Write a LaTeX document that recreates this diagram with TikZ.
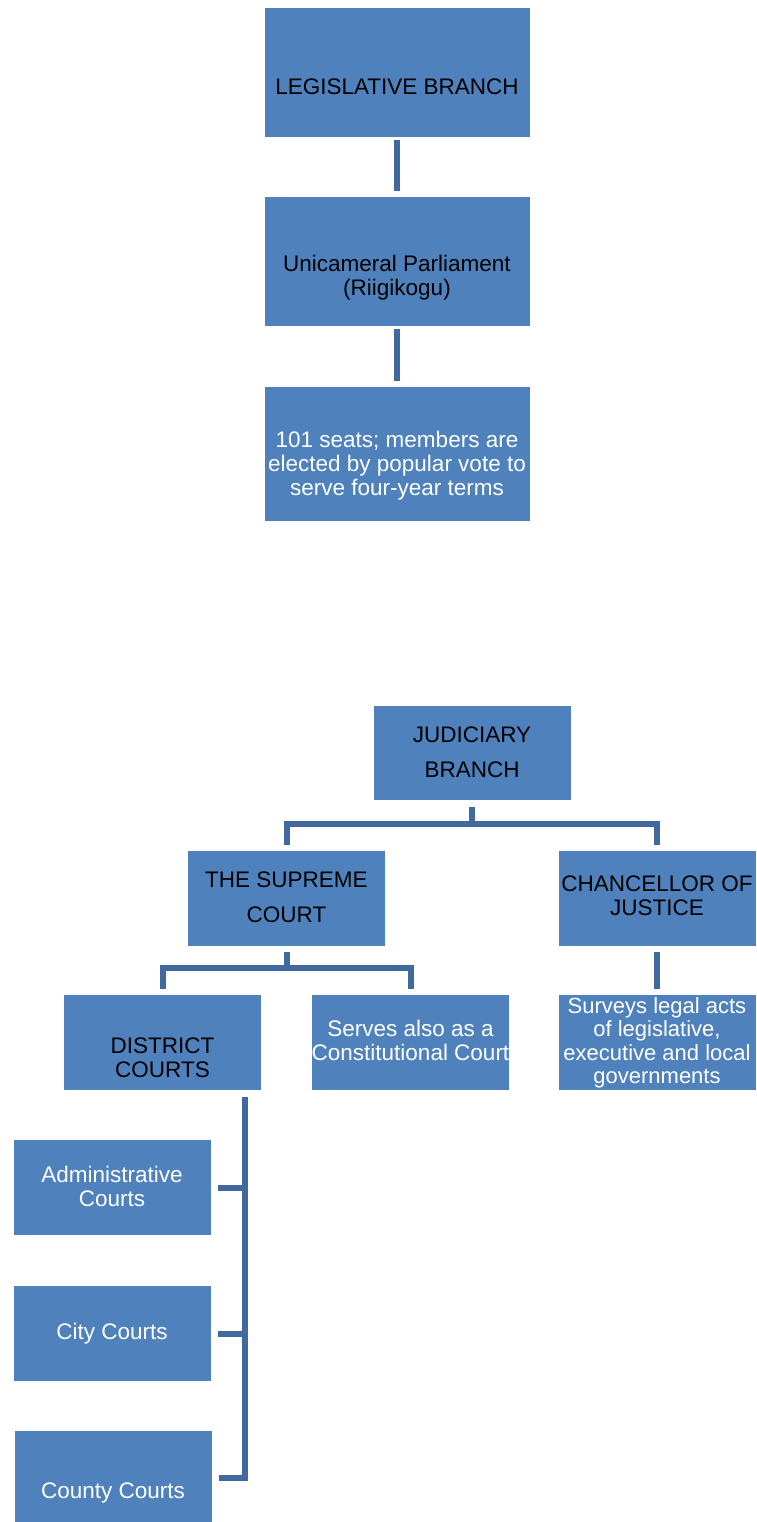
\documentclass[tikz,border=0pt]{standalone}
\usepackage{fontspec}
\setmainfont{Liberation Sans}
\usepackage{tikz}
\usepackage{xcolor}
\definecolor{boxblue}{HTML}{4F81BD}
\definecolor{lineblue}{HTML}{41699D}

\begin{document}
\begin{tikzpicture}[x=1pt,y=-1pt]
\tikzstyle{every node}+=[inner sep=0pt]
\tikzstyle{box}=[fill=boxblue, draw=white, line width=0.6pt, minimum width=198pt, minimum height=96pt]
\tikzstyle{wide}=[box, minimum width=266pt, minimum height=130pt]
\tikzstyle{txt}=[align=center, font=\fontsize{22.5}{24}\selectfont]
\tikzstyle{wtxt}=[txt, text=white]
\tikzstyle{link}=[draw=lineblue, line width=6pt]
\useasboundingbox (0,0) rectangle (756,1522);
% legislative branch
\node[wide] (leg) at (397,72) {};
\node[wide] (parl) at (397,261) {};
\node[wide, minimum height=135pt] (seats) at (397,453.5) {};
\node[txt] (leg-t) at ([yshift=-15pt]leg.center) {LEGISLATIVE BRANCH};
\node[txt] (parl-t) at ([yshift=-17pt]parl.center) {Unicameral Parliament\\(Riigikogu)};
\node[wtxt] (seats-t) at ([yshift=-12pt]seats.center) {101 seats; members are\\elected by popular vote to\\serve four-year terms};
\draw[link] ([yshift=-3pt]leg.south) -- ([yshift=5pt]parl.north);
\draw[link] ([yshift=-3pt]parl.south) -- ([yshift=5pt]seats.north);
% judiciary branch
\node[box, minimum height=95pt] (jud) at (472,752.5) {};
\node[box] (sup) at (286.5,898) {};
\node[box] (chan) at (657,898) {};
\node[box] (dist) at (162.5,1042) {};
\node[box] (serv) at (410.5,1042) {};
\node[box] (surv) at (657,1042) {};
\node[box] (admin) at (112,1187.5) {};
\node[box] (city) at (112,1333.5) {};
\node[box] (county) at (113,1478) {};
\node[txt] (jud-t) at (jud.center) {JUDICIARY\\[11pt]BRANCH};
\node[txt] (sup-t) at ([yshift=1pt]sup.center) {THE SUPREME\\[11pt]COURT};
\node[txt] (chan-t) at ([yshift=2pt]chan.center) {CHANCELLOR OF\\JUSTICE};
\node[txt] (dist-t) at ([yshift=-16pt]dist.center) {DISTRICT\\COURTS};
\node[wtxt] (serv-t) at ([yshift=2pt]serv.center) {Serves also as a\\Constitutional Court};
\node[wtxt, font=\fontsize{22}{23.5}\selectfont] (surv-t) at ([yshift=-1pt]surv.center) {Surveys legal acts\\of legislative,\\executive and local\\governments};
\node[wtxt] (admin-t) at ([yshift=1pt]admin.center) {Administrative\\Courts};
\node[wtxt] (city-t) at (city.center) {City Courts};
\node[wtxt] (county-t) at ([yshift=-15pt]county.center) {County Courts};
\draw[link] ([yshift=-7pt]jud.south) -- ([yshift=24pt]sup.north -| jud.south);
\draw[link] ([yshift=5pt]sup.north) -- ++(0,21pt) -| ([yshift=5pt]chan.north);
\draw[link] ([yshift=-6pt]sup.south) -- ([yshift=24pt]dist.north -| sup.south);
\draw[link] ([yshift=5pt]dist.north) -- ++(0,21pt) -| ([yshift=5pt]serv.north);
\draw[link] ([yshift=-6pt]chan.south) -- ([yshift=5pt]surv.north);
% district courts spine
\coordinate (spine) at ([xshift=-17pt,yshift=-7pt]dist.south east);
\draw[link] (spine) |- ([xshift=7pt]county.east);
\foreach \c in {admin,city}
  \draw[link] ([xshift=7pt]\c.east) -- (\c.east -| spine);
\end{tikzpicture}
\end{document}
